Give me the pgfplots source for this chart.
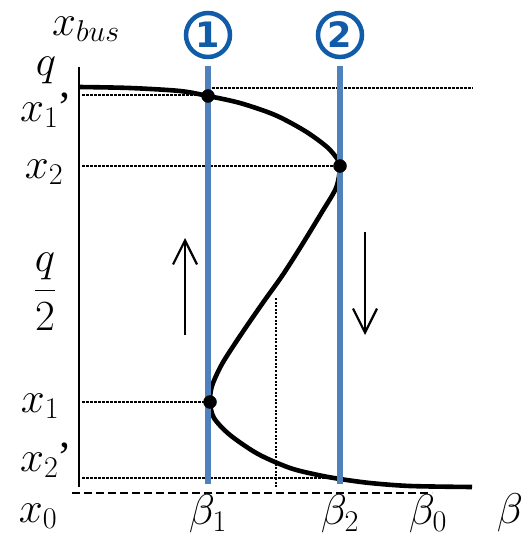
\RequirePackage{fix-cm}
\documentclass[border=0pt]{standalone}
\usepackage{amsmath}
\usepackage{fontspec}
\setmainfont{Liberation Serif}
\newfontfamily\numfont{DejaVu Sans}
\usepackage{pgfplots}
\pgfplotsset{compat=1.18}
\usetikzlibrary{arrows.meta}
\definecolor{stepblue}{RGB}{79,129,189}
\definecolor{numblue}{RGB}{16,92,168}
\tikzset{
  lbl/.style={font=\fontsize{43}{46}\selectfont, inner sep=0pt},
  stepnum/.style={circle, draw=numblue, line width=4.5pt, minimum size=44pt,
    inner sep=0pt, text=numblue, font=\numfont\bfseries\fontsize{35}{35}\selectfont},
  guide/.style={black, line width=2.8pt, dash pattern=on 2.6pt off 1.4pt},
}

\begin{document}
\begin{tikzpicture}
\begin{axis}[
  x=1pt, y=1pt, y dir=reverse,
  xmin=0, xmax=520, ymin=0, ymax=538,
  hide axis, clip=false,
]
% frame of the drawing
\coordinate (bl) at (axis cs:0,538);
\coordinate (tr) at (axis cs:520,0);

% vertical axis and baseline x_0
\addplot[black, line width=2.5pt] coordinates {(79,67) (79,487)};
\addplot[black, line width=2pt, dash pattern=on 8pt off 4pt] coordinates {(72,493) (432,493)};

% guide lines
\addplot[guide] coordinates {(208,88) (473,88)};
\addplot[guide] coordinates {(82,95) (206,95)};
\addplot[guide] coordinates {(82,166) (338,166)};
\addplot[guide] coordinates {(82,402) (208,402)};
\addplot[guide] coordinates {(82,478) (330,478)};
\addplot[black, line width=1.8pt, dash pattern=on 2pt off 1.6pt] coordinates {(276,298) (276,487)};

% S-shaped equilibrium curve
\addplot[black, line width=4.6pt, smooth, tension=0.5] coordinates {
  (79,87) (130,88) (180,91) (208,96) (240,103) (275,115) (305,131)
  (327,147) (338,160) (340,168) (336,188) (322,212) (300,248)
  (282,276) (262,304) (240,336) (222,364) (212,386) (210,402) (214,418)
  (230,435) (258,454) (290,468) (318,475) (340,479) (370,483)
  (410,486) (472,487)};

% operating lines
\addplot[stepblue, line width=6pt] coordinates {(208,66) (208,484)};
\addplot[stepblue, line width=6pt] coordinates {(340,66) (340,484)};

% turning / intersection points
\addplot[only marks, mark=*, mark size=6.5pt, black] coordinates {(208,96) (340,166) (210,402)};

% direction arrows
\addplot[black, line width=2.2pt, -{Straight Barb[length=24pt,width=24pt,line width=2.2pt]}] coordinates {(185,335) (185,238)};
\addplot[black, line width=2.2pt, -{Straight Barb[length=24pt,width=24pt,line width=2.2pt]}] coordinates {(365,232) (365,335)};

% labels
\node[lbl] at (axis cs:86,29) {$x_{bus}$};
\node[lbl] at (axis cs:46,70) {$q$};
\node[lbl] at (axis cs:46,110) {$x_1$\kern-1pt'};
\node[lbl] at (axis cs:44,172) {$x_2$};
\node[lbl] at (axis cs:45,292) {$\dfrac{q}{2}$};
\node[lbl] at (axis cs:40,406) {$x_1$};
\node[lbl] at (axis cs:46,460) {$x_2$\kern-1pt'};
\node[lbl] at (axis cs:38,516) {$x_0$};
\node[lbl] at (axis cs:208,514) {$\beta_1$};
\node[lbl] at (axis cs:340,514) {$\beta_2$};
\node[lbl] at (axis cs:428,514) {$\beta_0$};
\node[lbl] at (axis cs:510,513) {$\beta$};

% step numbers
\node[stepnum] at (axis cs:208,35) {1};
\node[stepnum] at (axis cs:340,35) {2};
\end{axis}
\pgfresetboundingbox
\useasboundingbox (bl) rectangle (tr);
\end{tikzpicture}
\end{document}
